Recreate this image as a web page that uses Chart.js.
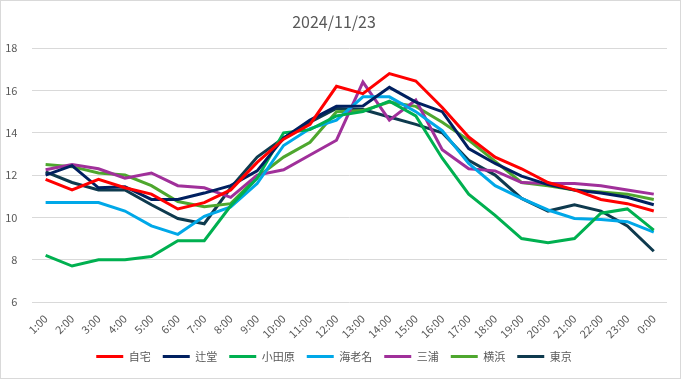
<!DOCTYPE html>
<html>
<head>
<meta charset="utf-8">
<script src="https://cdn.jsdelivr.net/npm/chart.js@4.4.1/dist/chart.umd.min.js"></script>
<style>
html,body{margin:0;padding:0;background:#fff;}
#wrap{position:relative;width:681px;height:379px;box-sizing:border-box;border:1px solid #d9d9d9;background:#fff;}
canvas{display:block;}
</style>
</head>
<body>
<div id="wrap"><canvas id="c"></canvas></div>
<script>
const labels = ["1:00","2:00","3:00","4:00","5:00","6:00","7:00","8:00","9:00","10:00","11:00","12:00","13:00","14:00","15:00","16:00","17:00","18:00","19:00","20:00","21:00","22:00","23:00","0:00"];
const jitaku   = [11.8,11.3,11.8,11.4,11.1,10.4,10.7,11.3,12.6,13.7,14.4,16.2,15.85,16.8,16.45,15.2,13.8,12.85,12.3,11.65,11.3,10.85,10.65,10.3];
const tsujido  = [12.0,12.45,11.4,11.45,10.85,10.85,11.15,11.5,12.2,13.75,14.6,15.25,15.27,16.15,15.45,15.0,13.25,12.55,11.95,11.55,11.3,11.15,10.95,10.6];
const odawara  = [8.2,7.7,8.0,8.0,8.15,8.9,8.9,10.55,11.85,14.0,14.15,14.8,15.0,15.5,14.8,12.8,11.1,10.1,9.0,8.8,9.0,10.2,10.4,9.4];
const ebina    = [10.7,10.7,10.7,10.3,9.6,9.2,10.05,10.5,11.6,13.4,14.2,14.6,15.7,15.7,15.0,14.1,12.55,11.5,10.9,10.35,9.95,9.9,9.8,9.3];
const miura    = [12.25,12.5,12.3,11.85,12.1,11.5,11.4,10.95,12.0,12.25,12.95,13.65,16.4,14.6,15.55,13.2,12.3,12.2,11.65,11.6,11.6,11.5,11.3,11.1];
const yokohama = [12.5,12.4,12.1,12.0,11.5,10.75,10.5,10.65,11.9,12.85,13.55,15.0,15.05,15.45,15.25,14.5,13.65,12.65,11.65,11.5,11.3,11.2,11.1,10.85];
const tokyo    = [12.15,11.65,11.3,11.3,10.6,9.95,9.7,11.4,12.85,13.75,14.5,15.15,15.1,14.75,14.4,14.0,12.7,12.0,10.9,10.3,10.6,10.3,9.6,8.4];
const yTicks = [6,8,10,12,14,16,18];

const series = [
  ["自宅", jitaku, "#FF0000"],
  ["辻堂", tsujido, "#002060"],
  ["小田原", odawara, "#00B050"],
  ["海老名", ebina, "#00A8E8"],
  ["三浦", miura, "#A0309A"],
  ["横浜", yokohama, "#4EA72E"],
  ["東京", tokyo, "#0E3A4E"]
];

const font = "'Noto Sans CJK JP','Noto Sans',sans-serif";
new Chart(document.getElementById('c'), {
  type: 'line',
  data: {
    labels: labels,
    datasets: series.map(s => ({
      label: s[0], data: s[1], borderColor: s[2], backgroundColor: s[2],
      borderWidth: 3, pointRadius: 0, tension: 0, fill: false
    }))
  },
  options: {
    responsive: true, maintainAspectRatio: false, animation: false,
    layout: {padding: {left: 0, right: 13, top: 5, bottom: 6}},
    plugins: {
      title: {display: true, text: "2024/11/23", color: "#595959",
        font: {family: font, size: 16, weight: 'normal'}, padding: {top: 6, bottom: 17}},
      legend: {position: 'bottom',
        labels: {boxWidth: 27, boxHeight: 3, color: "#595959", padding: 12,
          font: {family: font, size: 11},
          generateLabels: chart => {
            const items = Chart.defaults.plugins.legend.labels.generateLabels(chart);
            items.forEach(it => { it.lineWidth = 0; });
            return items;
          }}},
      tooltip: {enabled: false}
    },
    scales: {
      x: {offset: true,
        afterFit: ax => { ax.paddingLeft = 0; ax.paddingRight = 0; ax.height = 37; },
        grid: {display: false},
        border: {display: false},
        ticks: {color: "#595959", minRotation: 45, maxRotation: 45, autoSkip: false, padding: 2,
          font: {family: font, size: 11}}},
      y: {min: 6, max: 18,
        afterFit: ax => { ax.width = 31.4; },
        afterBuildTicks: ax => { ax.ticks = yTicks.map(v => ({value: v})); },
        grid: {color: "#d9d9d9", drawTicks: false},
        border: {display: false},
        ticks: {color: "#595959", padding: 15, font: {family: font, size: 11}}}
    }
  }
});
</script>
</body>
</html>
